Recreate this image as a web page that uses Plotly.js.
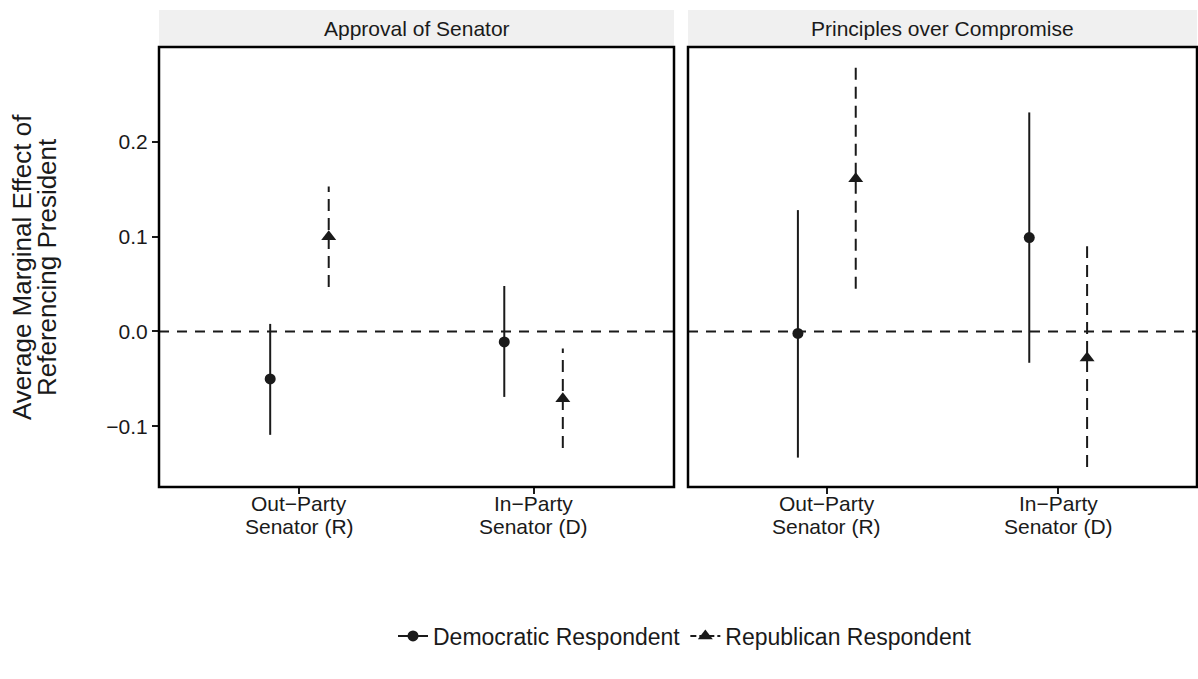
<!DOCTYPE html>
<html>
<head>
<meta charset="utf-8">
<script src="https://cdn.plot.ly/plotly-3.0.1.min.js"></script>
<style>
  html, body { margin: 0; padding: 0; background: #ffffff; overflow: hidden; }
  #chart { width: 1198px; height: 679px; }
</style>
</head>
<body>
<div id="chart"></div>
<script>
// Facet panels and x categories (two-line labels)
const panels = ['Approval of Senator', 'Principles over Compromise'];
const categoryTop = ['Out\u2212Party', 'In\u2212Party'];
const categoryBottom = ['Senator (R)', 'Senator (D)'];
const groups = ['Democratic Respondent', 'Republican Respondent'];

// Y axis ticks
const yTickVals = [-0.1, 0.0, 0.1, 0.2];
const yTickText = ['\u22120.1', '0.0', '0.1', '0.2'];

// Approval of Senator: estimates and 95% intervals (Out-Party, In-Party)
const demApprovalEst = [-0.050, -0.011];
const demApprovalLo  = [-0.109, -0.069];
const demApprovalHi  = [ 0.008,  0.048];
const repApprovalEst = [ 0.100, -0.071];
const repApprovalLo  = [ 0.047, -0.123];
const repApprovalHi  = [ 0.153, -0.018];

// Principles over Compromise
const demPrinciplesEst = [-0.002,  0.099];
const demPrinciplesLo  = [-0.133, -0.033];
const demPrinciplesHi  = [ 0.128,  0.231];
const repPrinciplesEst = [ 0.161, -0.028];
const repPrinciplesLo  = [ 0.045, -0.143];
const repPrinciplesHi  = [ 0.279,  0.090];

const INK = '#1a1a1a';
const FONT = 'Liberation Sans, Arial, Helvetica, sans-serif';
const DODGE = 0.125;
const PLOT_H = 440;

const styles = {
  dem: { symbol: 'circle', size: 11, dash: 'solid', offset: -DODGE },
  rep: { symbol: 'triangle-up', size: 13, dash: '12px,7px', offset: DODGE }
};

function catX(n, off) {
  const xs = [];
  for (let i = 0; i < n; i++) xs.push(i + 1 + off);
  return xs;
}

function intervalTrace(lo, hi, st, xa, ya) {
  const x = [], y = [];
  for (let i = 0; i < lo.length; i++) {
    x.push(i + 1 + st.offset, i + 1 + st.offset, null);
    y.push(lo[i], hi[i], null);
  }
  return {
    type: 'scatter', mode: 'lines', x: x, y: y, xaxis: xa, yaxis: ya,
    line: { color: INK, width: 2, dash: st.dash },
    showlegend: false, hoverinfo: 'skip', connectgaps: false
  };
}

function pointTrace(est, st, xa, ya) {
  return {
    type: 'scatter', mode: 'markers', x: catX(est.length, st.offset), y: est,
    xaxis: xa, yaxis: ya,
    marker: { symbol: st.symbol, size: st.size, color: INK, line: { width: 0 } },
    showlegend: false
  };
}

const traces = [
  intervalTrace(demApprovalLo, demApprovalHi, styles.dem, 'x', 'y'),
  intervalTrace(repApprovalLo, repApprovalHi, styles.rep, 'x', 'y'),
  pointTrace(demApprovalEst, styles.dem, 'x', 'y'),
  pointTrace(repApprovalEst, styles.rep, 'x', 'y'),
  intervalTrace(demPrinciplesLo, demPrinciplesHi, styles.dem, 'x2', 'y2'),
  intervalTrace(repPrinciplesLo, repPrinciplesHi, styles.rep, 'x2', 'y2'),
  pointTrace(demPrinciplesEst, styles.dem, 'x2', 'y2'),
  pointTrace(repPrinciplesEst, styles.rep, 'x2', 'y2'),
  // legend keys
  {
    type: 'scatter', mode: 'lines+markers', x: [null], y: [null], name: groups[0],
    line: { color: INK, width: 2, dash: styles.dem.dash },
    marker: { symbol: styles.dem.symbol, size: styles.dem.size, color: INK }
  },
  {
    type: 'scatter', mode: 'lines+markers', x: [null], y: [null], name: groups[1],
    line: { color: INK, width: 2, dash: '6px,3px' },
    marker: { symbol: styles.rep.symbol, size: styles.rep.size, color: INK }
  }
];

const yRange = [-0.164, 0.300];
const stripH = 37 / PLOT_H;

function xAxis(domain, anchor) {
  return {
    domain: domain, anchor: anchor, range: [0.4, 2.6],
    tickvals: [1, 2], showticklabels: false,
    ticks: 'outside', ticklen: 6, tickwidth: 2, tickcolor: INK,
    showgrid: false, zeroline: false, showline: false, fixedrange: true
  };
}

const shapes = [];
const annotations = [];
[['x', 'y'], ['x2', 'y2']].forEach(function (ax, i) {
  // strip background
  shapes.push({
    type: 'rect', xref: ax[0] + ' domain', yref: ax[1] + ' domain',
    x0: 0, x1: 1, y0: 1, y1: 1 + stripH,
    fillcolor: '#f0f0f0', line: { width: 0 }, layer: 'below'
  });
  // reference line at zero
  shapes.push({
    type: 'line', xref: ax[0] + ' domain', yref: ax[1],
    x0: 0, x1: 1, y0: 0, y1: 0,
    line: { color: INK, width: 2, dash: '10px,8px' }, layer: 'below'
  });
  // panel border
  shapes.push({
    type: 'rect', xref: ax[0] + ' domain', yref: ax[1] + ' domain',
    x0: 0, x1: 1, y0: 0, y1: 1,
    line: { color: '#000000', width: 2.5 }, fillcolor: 'rgba(0,0,0,0)', layer: 'above'
  });
  annotations.push({
    xref: ax[0] + ' domain', yref: ax[1] + ' domain', x: 0.5, y: 1 + stripH / 2,
    text: panels[i], showarrow: false, xanchor: 'center', yanchor: 'middle',
    font: { family: FONT, size: 21, color: INK }
  });
  // category labels under each panel
  for (let c = 0; c < categoryTop.length; c++) {
    annotations.push({
      xref: ax[0], yref: ax[1] + ' domain', x: c + 1, y: -16 / PLOT_H,
      text: categoryTop[c], showarrow: false, xanchor: 'center', yanchor: 'middle',
      font: { family: FONT, size: 21, color: INK }
    });
    annotations.push({
      xref: ax[0], yref: ax[1] + ' domain', x: c + 1, y: -39 / PLOT_H,
      text: categoryBottom[c], showarrow: false, xanchor: 'center', yanchor: 'middle',
      font: { family: FONT, size: 21, color: INK }
    });
  }
});

// y axis title, two lines
const yTitleLines = ['Average Marginal Effect of', 'Referencing President'];
const yTitleX = [22, 47];
yTitleLines.forEach(function (t, i) {
  annotations.push({
    xref: 'paper', yref: 'paper', x: (yTitleX[i] - 159) / 1038, y: 0.5,
    text: t, textangle: -90, showarrow: false, xanchor: 'center', yanchor: 'middle',
    font: { family: FONT, size: 26, color: INK }
  });
});

const layout = {
  width: 1198, height: 679,
  margin: { l: 159, r: 1, t: 47, b: 192, pad: 0 },
  paper_bgcolor: '#ffffff', plot_bgcolor: '#ffffff',
  font: { family: FONT, color: INK },
  xaxis: xAxis([0, 515 / 1038], 'y'),
  xaxis2: xAxis([529 / 1038, 1], 'y2'),
  yaxis: {
    anchor: 'x', range: yRange, tickvals: yTickVals, ticktext: yTickText,
    ticks: 'outside', ticklen: 6, tickwidth: 2, tickcolor: INK,
    tickfont: { family: FONT, size: 21, color: INK },
    showgrid: false, zeroline: false, showline: false, fixedrange: true
  },
  yaxis2: {
    anchor: 'x2', matches: 'y', range: yRange, showticklabels: false, ticks: '',
    showgrid: false, zeroline: false, showline: false, fixedrange: true
  },
  shapes: shapes,
  annotations: annotations,
  showlegend: true,
  legend: {
    orientation: 'h', x: (685 - 159) / 1038, xanchor: 'center', y: -(636 - 487) / PLOT_H, yanchor: 'middle',
    font: { family: FONT, size: 23, color: INK }, bgcolor: 'rgba(0,0,0,0)', itemwidth: 30
  }
};

Plotly.newPlot('chart', traces, layout, { displayModeBar: false, staticPlot: true });
</script>
</body>
</html>
